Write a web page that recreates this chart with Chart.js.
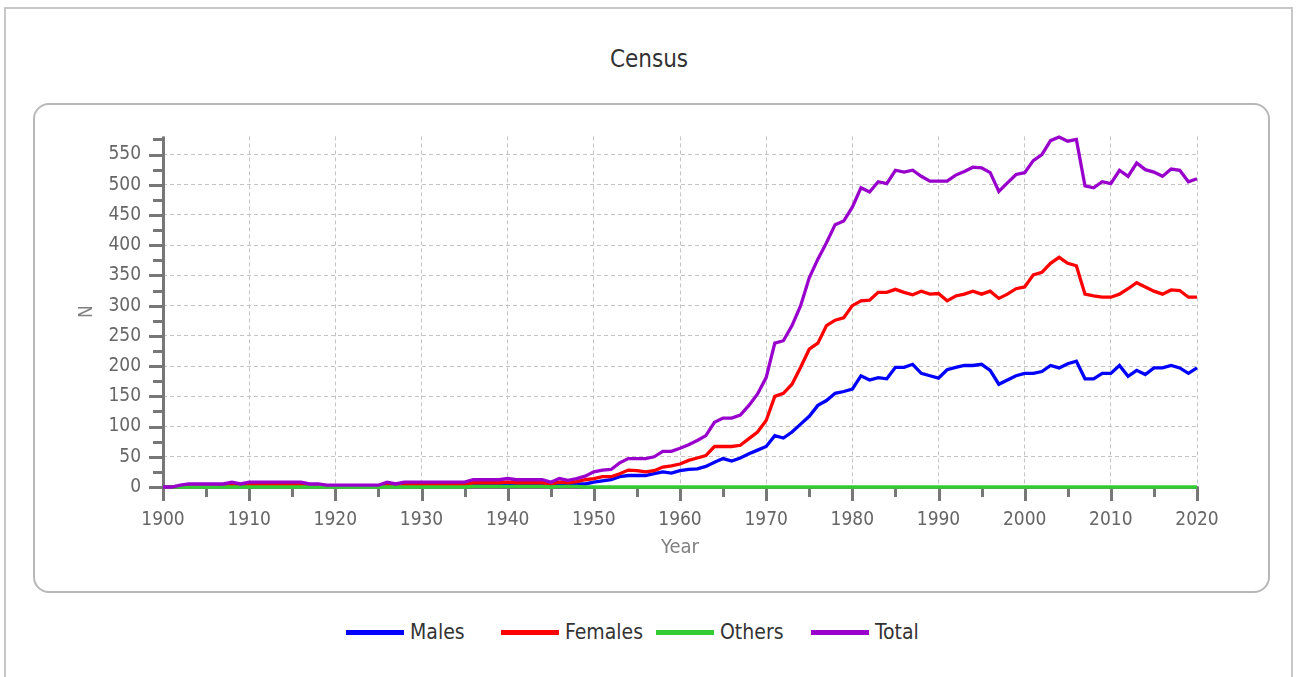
<!DOCTYPE html>
<html><head><meta charset="utf-8">
<script src="https://cdn.jsdelivr.net/npm/chart.js@4.4.1/dist/chart.umd.min.js"></script>
<style>
html,body{margin:0;padding:0;background:#fff;width:1298px;height:677px;overflow:hidden;font-family:'DejaVu Sans Condensed','DejaVu Sans',sans-serif;}
#frame{position:absolute;left:4px;top:7px;width:1285px;height:700px;border:2px solid #c8c8c8;border-bottom:none;}
#title{position:absolute;left:0;width:1298px;top:47px;text-align:center;font-size:24px;line-height:24px;color:#333;}
#box{position:absolute;left:33px;top:103px;width:1233px;height:486px;border:2px solid #b8b8b8;border-radius:16px;}
#chart{position:absolute;left:33px;top:103px;width:1237px;height:490px;}
#legend{position:absolute;left:346px;top:617px;height:30px;display:flex;}
.item{width:155px;display:flex;align-items:center;height:30px;font-size:21px;color:#333;white-space:nowrap;}
.mark{width:58px;height:5px;margin-right:6px;flex:none;}
</style></head><body>
<div id="frame"></div>
<div id="title">Census</div>
<div id="box"></div>
<canvas id="chart" width="1237" height="490"></canvas>
<div id="legend"></div>
<script>
const years = [];
for (let yr = 1900; yr <= 2020; yr++) years.push(yr);

const males = [
0,0,1,2,2,2,2,2,3,2, 3,3,3,3,3,3,3,2,2,1,
1,1,1,1,1,1,3,2,3,3, 3,3,3,3,3,3,4,4,4,4,
5,4,4,4,4,3,5,4,5,5, 8,10,12,17,19,19,19,22,25,23,
27,29,30,34,41,47,43,48,55,61, 67,85,81,91,104,117,135,143,155,158,
162,184,177,181,179,198,198,203,188,184, 180,194,198,201,201,203,193,170,177,184,
188,188,191,201,197,204,208,179,179,188, 188,201,183,193,186,197,197,201,197,188,
197];
const females = [
0,0,1,3,3,3,3,3,4,3, 4,4,4,4,4,4,4,3,3,2,
2,2,2,2,2,2,4,3,4,4, 4,4,4,4,4,4,7,7,7,7,
8,7,7,7,7,5,8,7,9,12, 14,17,17,22,28,27,25,27,33,35,
38,44,48,52,67,67,67,69,80,91, 110,150,155,170,198,228,238,267,276,280,
300,308,309,322,322,327,322,318,324,319, 320,308,316,319,324,319,324,312,319,328,
331,351,355,370,380,370,366,319,316,314, 314,319,328,338,331,324,319,326,325,314,
314];
const others = [
0,0,0,0,0,0,0,0,0,0, 0,0,0,0,0,0,0,0,0,0,
0,0,0,0,0,0,0,0,0,0, 0,0,0,0,0,0,1,1,1,1,
1,1,1,1,1,0,1,1,1,0, 0,0,0,0,0,0,0,0,0,0,
0,0,0,0,0,0,0,0,0,0, 0,0,0,0,0,0,0,0,0,0,
0,0,0,0,0,0,0,0,0,0, 0,0,0,0,0,0,0,0,0,0,
0,0,0,0,0,0,0,0,0,0, 0,0,0,0,0,0,0,0,0,0,
0];
const total = [
0,0,3,5,5,5,5,5,8,5, 8,8,8,8,8,8,8,5,5,3,
3,3,3,3,3,3,8,5,8,8, 8,8,8,8,8,8,12,12,12,12,
14,12,12,12,12,8,14,11,14,18, 25,28,29,40,47,47,47,50,59,59,
64,70,77,85,107,114,114,119,135,154, 181,238,242,267,300,346,377,404,434,440,
463,495,488,505,502,524,521,524,514,506, 506,506,516,522,529,528,520,489,503,517,
520,540,550,573,579,572,575,498,495,505, 502,524,514,536,525,521,514,526,524,505,
510];

const seriesNames = ['Males','Females','Others','Total'];
const seriesColors = ['#0000ff','#ff0000','#33cc33','#9900cc'];
const seriesValues = [males, females, others, total];

const xTickValues = [1900,1910,1920,1930,1940,1950,1960,1970,1980,1990,2000,2010,2020];
const yTickValues = [0,50,100,150,200,250,300,350,400,450,500,550];

const FONT = "'DejaVu Sans Condensed','DejaVu Sans',sans-serif";
Chart.defaults.font.family = FONT;

const axisPlugin = {
  id: 'axisTicks',
  beforeDatasetsDraw(chart) {
    const {ctx, chartArea: a, scales: {x, y}} = chart;
    ctx.save();
    ctx.strokeStyle = '#777';
    ctx.lineCap = 'butt';
    ctx.lineWidth = 3;
    for (let v = 0; v <= y.max; v += 25) {
      const py = Math.round(y.getPixelForValue(v)) + 0.5;
      const len = v % 50 === 0 ? 14 : 10;
      ctx.beginPath(); ctx.moveTo(a.left - len, py); ctx.lineTo(a.left, py); ctx.stroke();
    }
    for (let v = x.min; v <= x.max; v += 5) {
      const px = Math.round(x.getPixelForValue(v)) + 0.5;
      const len = v % 10 === 0 ? 14 : 10;
      ctx.beginPath(); ctx.moveTo(px, a.bottom); ctx.lineTo(px, a.bottom + len); ctx.stroke();
    }
    ctx.beginPath(); ctx.moveTo(a.left + 0.5, a.top); ctx.lineTo(a.left + 0.5, a.bottom + 1); ctx.stroke();
    ctx.beginPath(); ctx.moveTo(a.left, a.bottom + 0.5); ctx.lineTo(a.right + 1.5, a.bottom + 0.5); ctx.stroke();
    ctx.restore();
  }
};

const datasets = seriesNames.map((name, i) => ({
  label: name,
  data: years.map((yr, j) => ({x: yr, y: seriesValues[i][j]})),
  borderColor: seriesColors[i],
  backgroundColor: seriesColors[i],
  borderWidth: 3.3,
  pointRadius: 0,
  tension: 0,
  fill: false,
  clip: 6,
  order: seriesNames.length - i
}));

const chart = new Chart(document.getElementById('chart'), {
  type: 'line',
  data: {datasets},
  plugins: [axisPlugin],
  options: {
    responsive: false,
    animation: false,
    devicePixelRatio: 1,
    layout: {padding: {top: 33, right: 73, left: 0, bottom: 0}},
    plugins: {legend: {display: false}, tooltip: {enabled: false}, title: {display: false}},
    scales: {
      x: {
        type: 'linear', min: 1900, max: 2020,
        afterFit: s => { s.height = 106; },
        afterBuildTicks: s => { s.ticks = xTickValues.map(v => ({value: v})); },
        ticks: {autoSkip: false, maxRotation: 0, padding: 22, color: '#666', font: {size: 19}, callback: v => String(v)},
        grid: {drawTicks: false, color: '#c4c4c4', lineWidth: 1},
        border: {display: false, dash: [4, 3]},
        title: {display: true, text: 'Year', color: '#808080', font: {size: 20}, padding: {top: 0, bottom: 33}}
      },
      y: {
        type: 'linear', min: 0, max: 580,
        afterFit: s => { s.width = 130; },
        afterBuildTicks: s => { s.ticks = yTickValues.map(v => ({value: v})); },
        ticks: {padding: 22, color: '#666', font: {size: 19}, callback: v => String(v)},
        grid: {drawTicks: false, color: '#c4c4c4', lineWidth: 1},
        border: {display: false, dash: [4, 3]},
        title: {display: true, text: 'N', color: '#808080', font: {size: 19}, padding: {top: 43, bottom: 0}}
      }
    }
  }
});

const legend = document.getElementById('legend');
chart.data.datasets.forEach(ds => {
  const item = document.createElement('div'); item.className = 'item';
  const mk = document.createElement('span'); mk.className = 'mark'; mk.style.background = ds.borderColor;
  const tx = document.createElement('span'); tx.textContent = ds.label;
  item.appendChild(mk); item.appendChild(tx); legend.appendChild(item);
});
</script>
</body></html>
